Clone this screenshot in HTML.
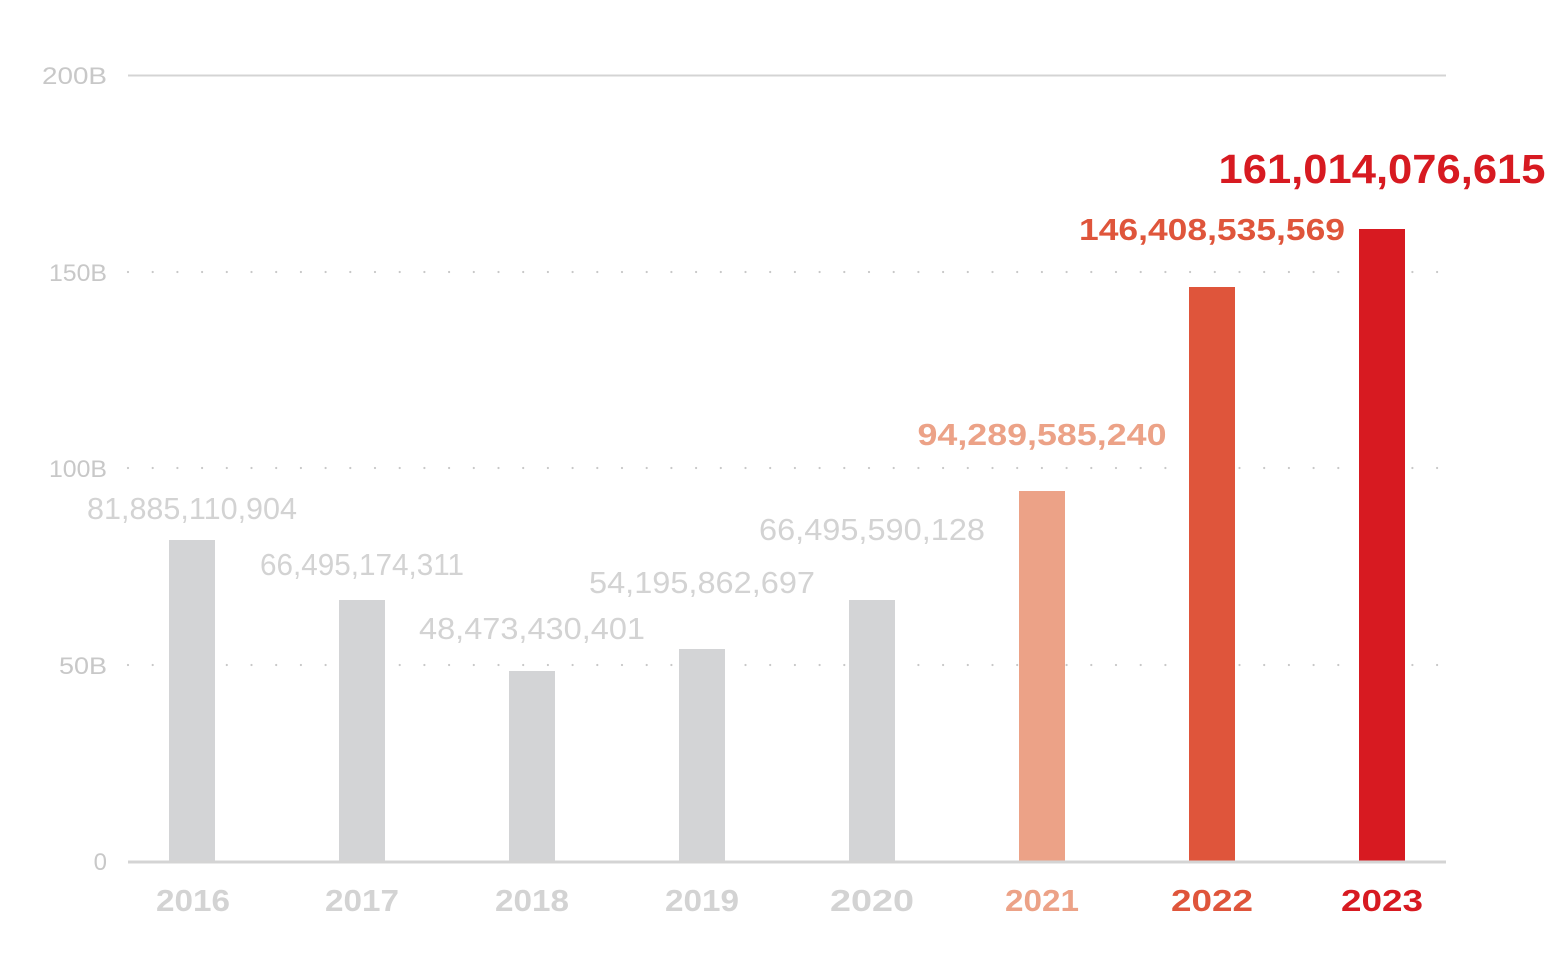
<!DOCTYPE html>
<html><head><style>html,body{margin:0;padding:0;background:#fff}</style></head>
<body>
<svg width="1564" height="974" xmlns="http://www.w3.org/2000/svg" font-family="Liberation Sans, sans-serif">
<g fill="#c8c8c8" font-size="24" text-anchor="end">
<text x="107" y="84" textLength="65" lengthAdjust="spacingAndGlyphs">200B</text>
<text x="107" y="281" textLength="58" lengthAdjust="spacingAndGlyphs">150B</text>
<text x="107" y="477" textLength="58" lengthAdjust="spacingAndGlyphs">100B</text>
<text x="107" y="674" textLength="48" lengthAdjust="spacingAndGlyphs">50B</text>
<text x="107" y="870">0</text>
</g>
<line x1="128" y1="75.5" x2="1446" y2="75.5" stroke="#d4d4d4" stroke-width="2"/>
<g stroke="#c8c8c8" stroke-width="2.2" stroke-linecap="round" stroke-dasharray="0 24.7">
<line x1="128" y1="272" x2="1446" y2="272"/>
<line x1="128" y1="468" x2="1446" y2="468"/>
<line x1="128" y1="665" x2="1446" y2="665"/>
</g>
<g>
<rect x="169" y="540" width="46" height="322" fill="#d3d4d6"/>
<rect x="339" y="600" width="46" height="262" fill="#d3d4d6"/>
<rect x="509" y="671" width="46" height="191" fill="#d3d4d6"/>
<rect x="679" y="649" width="46" height="213" fill="#d3d4d6"/>
<rect x="849" y="600" width="46" height="262" fill="#d3d4d6"/>
<rect x="1019" y="491" width="46" height="371" fill="#eca287"/>
<rect x="1189" y="287" width="46" height="575" fill="#df553b"/>
<rect x="1359" y="229" width="46" height="633" fill="#d71a21"/>
</g>
<line x1="128" y1="862" x2="1446" y2="862" stroke="#d4d4d4" stroke-width="3"/>
<g font-size="31" fill="#d3d3d3" text-anchor="middle">
<text x="192" y="519" textLength="210" lengthAdjust="spacingAndGlyphs">81,885,110,904</text>
<text x="362" y="575" textLength="204" lengthAdjust="spacingAndGlyphs">66,495,174,311</text>
<text x="532" y="639" textLength="226" lengthAdjust="spacingAndGlyphs">48,473,430,401</text>
<text x="702" y="593" textLength="226" lengthAdjust="spacingAndGlyphs">54,195,862,697</text>
<text x="872" y="540" textLength="226" lengthAdjust="spacingAndGlyphs">66,495,590,128</text>
</g>
<g font-weight="bold" text-anchor="middle">
<text x="1042" y="445" font-size="31" fill="#eca287" textLength="249" lengthAdjust="spacingAndGlyphs">94,289,585,240</text>
<text x="1212" y="240" font-size="31" fill="#df553b" textLength="266" lengthAdjust="spacingAndGlyphs">146,408,535,569</text>
<text x="1382" y="183" font-size="41" fill="#d71a21" textLength="327" lengthAdjust="spacingAndGlyphs">161,014,076,615</text>
</g>
<g font-weight="bold" font-size="31" text-anchor="middle">
<text x="193" y="911" fill="#d3d3d3" textLength="74" lengthAdjust="spacingAndGlyphs">2016</text>
<text x="362" y="911" fill="#d3d3d3" textLength="74" lengthAdjust="spacingAndGlyphs">2017</text>
<text x="532" y="911" fill="#d3d3d3" textLength="74" lengthAdjust="spacingAndGlyphs">2018</text>
<text x="702" y="911" fill="#d3d3d3" textLength="74" lengthAdjust="spacingAndGlyphs">2019</text>
<text x="872" y="911" fill="#d3d3d3" textLength="84" lengthAdjust="spacingAndGlyphs">2020</text>
<text x="1042" y="911" fill="#eca287" textLength="74" lengthAdjust="spacingAndGlyphs">2021</text>
<text x="1212" y="911" fill="#df553b" textLength="82" lengthAdjust="spacingAndGlyphs">2022</text>
<text x="1382" y="911" fill="#d71a21" textLength="82" lengthAdjust="spacingAndGlyphs">2023</text>
</g>
</svg>
</body></html>
